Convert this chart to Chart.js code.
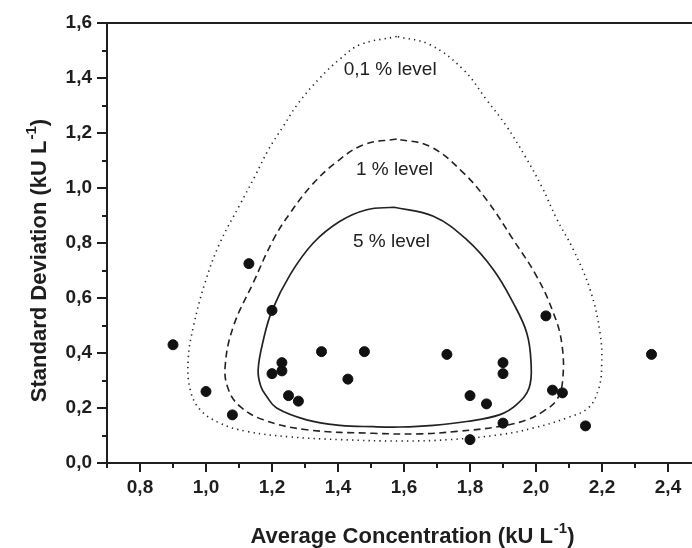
<!DOCTYPE html>
<html>
<head>
<meta charset="utf-8">
<script src="https://cdn.jsdelivr.net/npm/chart.js@4.4.1/dist/chart.umd.min.js"></script>
<style>
  html, body { margin: 0; padding: 0; overflow: hidden; background: #fff; }
  canvas { display: block; }
</style>
</head>
<body>
<canvas id="desvioChart" width="720" height="548"></canvas>
<script>
// pontos medidos (media x desvio padrao)
const mediaX = [0.90, 1.00, 1.08, 1.13, 1.20, 1.20, 1.23, 1.23, 1.25, 1.28, 1.35, 1.43, 1.48,
  1.73, 1.80, 1.85, 1.80, 1.90, 1.90, 1.90, 2.03, 2.05, 2.08, 2.15, 2.35];
const desvioY = [0.43, 0.26, 0.175, 0.725, 0.555, 0.325, 0.365, 0.335, 0.245, 0.225, 0.405, 0.305, 0.405,
  0.395, 0.245, 0.215, 0.085, 0.365, 0.325, 0.145, 0.535, 0.265, 0.255, 0.135, 0.395];

// contorno 5 %
const nivel5X = [1.57, 1.487, 1.406, 1.325, 1.255, 1.20, 1.174, 1.158, 1.166, 1.184, 1.214, 1.305, 1.406,
  1.507, 1.588, 1.689, 1.79, 1.891, 1.941, 1.979, 1.985, 1.972, 1.931, 1.871, 1.79, 1.689, 1.57];
const nivel5Y = [0.93, 0.921, 0.879, 0.80, 0.685, 0.554, 0.448, 0.339, 0.279, 0.242, 0.20, 0.157, 0.137,
  0.132, 0.131, 0.137, 0.151, 0.176, 0.212, 0.273, 0.364, 0.473, 0.582, 0.703, 0.812, 0.897, 0.93];

// contorno 1 %
const nivel1X = [1.578, 1.477, 1.391, 1.320, 1.255, 1.204, 1.143, 1.083, 1.058, 1.068, 1.103, 1.174, 1.305,
  1.507, 1.650, 1.760, 1.891, 1.972, 2.022, 2.063, 2.081, 2.078, 2.053, 2.002, 1.931, 1.854, 1.780, 1.679, 1.578];
const nivel1Y = [1.178, 1.157, 1.090, 1.010, 0.909, 0.812, 0.655, 0.497, 0.351, 0.267, 0.206, 0.157, 0.121,
  0.108, 0.106, 0.115, 0.133, 0.157, 0.188, 0.230, 0.303, 0.436, 0.545, 0.679, 0.812, 0.951, 1.055, 1.151, 1.178];

// contorno 0,1 %
const nivel01X = [1.578, 1.467, 1.406, 1.345, 1.280, 1.234, 1.189, 1.148, 1.103, 1.042, 0.997, 0.962, 0.946,
  0.952, 0.982, 1.042, 1.123, 1.255, 1.406, 1.588, 1.739, 1.891, 1.992, 2.093, 2.158, 2.189, 2.199, 2.194,
  2.164, 2.113, 2.063, 2.017, 1.967, 1.911, 1.850, 1.780, 1.679, 1.578];
const nivel01Y = [1.551, 1.521, 1.469, 1.400, 1.309, 1.224, 1.139, 1.042, 0.940, 0.800, 0.655, 0.497, 0.376,
  0.267, 0.194, 0.145, 0.115, 0.095, 0.085, 0.080, 0.085, 0.103, 0.127, 0.164, 0.200, 0.267, 0.351, 0.473,
  0.630, 0.776, 0.887, 1.006, 1.115, 1.224, 1.321, 1.430, 1.521, 1.551];

// rotulos dos niveis
const nivelTextos = ["0,1 % level", "1 % level", "5 % level"];
const nivelTextoX = [1.558, 1.571, 1.562];
const nivelTextoY = [1.43, 1.067, 0.806];

// marcas dos eixos
const ticksX = [0.8, 1.0, 1.2, 1.4, 1.6, 1.8, 2.0, 2.2, 2.4];
const ticksY = [0.0, 0.2, 0.4, 0.6, 0.8, 1.0, 1.2, 1.4, 1.6];

const tituloX = "Average Concentration (kU L";
const tituloY = "Standard Deviation (kU L";

document.addEventListener("DOMContentLoaded", function () {
  var fonte = "'Liberation Sans', Arial, sans-serif";
  var corEixo = "#1e1e1e";

  function pares(xs, ys) {
    return xs.map(function (x, i) { return { x: x, y: ys[i] }; });
  }
  function virgula(v) {
    return v.toFixed(1).replace(".", ",");
  }
  function ehMaior(v) {
    return Math.round(v * 10) % 2 === 0;
  }
  // ticks a cada 0,1 (menores) com rotulo so nos de 0,2
  function passo(min, max) {
    return function (scale) {
      var t = [];
      for (var k = Math.round(min * 10); k <= Math.round(max * 10); k++) t.push({ value: k / 10 });
      scale.ticks = t;
    };
  }
  function rotulo(lista) {
    return function (value) {
      var ok = lista.some(function (v) { return Math.abs(v - value) < 1e-6; });
      return ok ? virgula(value) : "";
    };
  }

  function curva(xs, ys, dash, largura) {
    return {
      type: "scatter",
      data: pares(xs, ys),
      showLine: true,
      fill: false,
      borderColor: "#222",
      borderWidth: largura,
      borderDash: dash,
      tension: 0.4,
      pointRadius: 0,
      pointHoverRadius: 0,
    };
  }

  // eixos extras: linha de cima, ticks, titulos e rotulos dos niveis
  var extras = {
    id: "extras",
    afterDraw: function (chart) {
      var ctx = chart.ctx, a = chart.chartArea;
      var sx = chart.scales.x, sy = chart.scales.y;
      ctx.save();
      ctx.strokeStyle = corEixo;
      ctx.lineWidth = 2;
      ctx.beginPath();
      ctx.moveTo(a.left - 1, a.top);
      ctx.lineTo(a.right + 1, a.top);
      sx.ticks.forEach(function (t) {
        var p = Math.round(sx.getPixelForValue(t.value));
        ctx.moveTo(p, a.bottom);
        ctx.lineTo(p, a.bottom + (ehMaior(t.value) ? 9 : 5));
      });
      sy.ticks.forEach(function (t) {
        var p = Math.round(sy.getPixelForValue(t.value));
        ctx.moveTo(a.left, p);
        ctx.lineTo(a.left - (ehMaior(t.value) ? 10 : 5), p);
      });
      ctx.stroke();

      // rotulos dos niveis
      ctx.fillStyle = "#222";
      ctx.font = "19px " + fonte;
      ctx.textAlign = "center";
      ctx.textBaseline = "middle";
      nivelTextos.forEach(function (txt, i) {
        ctx.fillText(txt, sx.getPixelForValue(nivelTextoX[i]), sy.getPixelForValue(nivelTextoY[i]));
      });

      // titulos com expoente
      function titulo(txt, cx, cy, rot) {
        ctx.save();
        ctx.translate(cx, cy);
        ctx.rotate(rot);
        ctx.textAlign = "left";
        ctx.textBaseline = "alphabetic";
        ctx.font = "bold 22px " + fonte;
        var w1 = ctx.measureText(txt).width;
        var w3 = ctx.measureText(")").width;
        ctx.font = "bold 15px " + fonte;
        var w2 = ctx.measureText("-1").width;
        var x0 = -(w1 + w2 + w3) / 2;
        ctx.font = "bold 22px " + fonte;
        ctx.fillText(txt, x0, 0);
        ctx.fillText(")", x0 + w1 + w2 + 1, 0);
        ctx.font = "bold 15px " + fonte;
        ctx.fillText("-1", x0 + w1 + 1, -10);
        ctx.restore();
      }
      ctx.fillStyle = corEixo;
      titulo(tituloX, (a.left + a.right) / 2 + 8, 543, 0);
      titulo(tituloY, 46, (a.top + a.bottom) / 2 + 18, -Math.PI / 2);
      ctx.restore();
    },
  };

  var configuracoes = {
    data: {
      datasets: [
        {
          type: "scatter",
          data: pares(mediaX, desvioY),
          backgroundColor: "#111",
          borderColor: "#111",
          pointRadius: 5,
          pointHoverRadius: 5,
        },
        curva(nivel5X, nivel5Y, [], 1.7),
        curva(nivel1X, nivel1Y, [7, 4.5], 1.6),
        curva(nivel01X, nivel01Y, [1.3, 4.2], 1.6),
      ],
    },
    options: {
      responsive: false,
      animation: false,
      layout: { padding: { left: 0, top: 23, right: 19, bottom: 0 } },
      scales: {
        x: {
          type: "linear",
          min: 0.7,
          max: 2.5,
          afterBuildTicks: passo(0.7, 2.5),
          afterFit: function (scale) { scale.height = 85; },
          grid: { drawOnChartArea: false, tickLength: 9, tickColor: "rgba(0,0,0,0)" },
          border: { color: corEixo, width: 2 },
          ticks: {
            autoSkip: false,
            maxRotation: 0,
            padding: 4,
            color: corEixo,
            font: { family: fonte, size: 19, weight: "bold" },
            callback: rotulo(ticksX),
          },
        },
        y: {
          type: "linear",
          min: 0,
          max: 1.6,
          afterBuildTicks: passo(0, 1.6),
          afterFit: function (scale) { scale.width = 107; },
          grid: { drawOnChartArea: false, tickLength: 10, tickColor: "rgba(0,0,0,0)" },
          border: { color: corEixo, width: 2 },
          ticks: {
            autoSkip: false,
            padding: 5,
            color: corEixo,
            font: { family: fonte, size: 19, weight: "bold" },
            callback: rotulo(ticksY),
          },
        },
      },
      plugins: {
        legend: { display: false },
        tooltip: { enabled: false },
      },
    },
    plugins: [extras],
  };

  var ctx = document.getElementById("desvioChart").getContext("2d");
  var meuGrafico = new Chart(ctx, configuracoes);
});
</script>
</body>
</html>
